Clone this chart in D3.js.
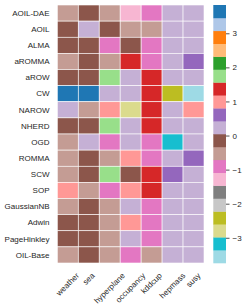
<!DOCTYPE html>
<html>
<head>
<meta charset="utf-8">
<script src="https://cdn.jsdelivr.net/npm/d3@7"></script>
<style>
  body { margin: 0; background: #fff; }
  svg { display: block; }
  text { font-family: "Liberation Sans", Arial, sans-serif; fill: #262626; }
</style>
</head>
<body>
<svg width="245" height="307"></svg>
<script>
// rows / columns of the heatmap
var models = ["AOIL-DAE", "AOIL", "ALMA", "aROMMA", "aROW", "CW", "NAROW", "NHERD",
  "OGD", "ROMMA", "SCW", "SOP", "GaussianNB", "Adwin", "PageHinkley", "OIL-Base"];
var datasets = ["weather", "sea", "hyperplane", "occupancy", "kddcup", "hepmass", "susy"];

// one row of scores per model (same order as datasets)
var scores = [
  [-0.5, -0.15, -0.5, -1.3, -0.9, 0.25, 0.25],
  [-0.15, 0.25, -0.15, -0.5, -0.5, 0.25, 0.25],
  [-0.15, -0.15, -0.9, -0.15, -0.9, 0.25, 0.25],
  [-0.5, -0.15, -0.5, 1.35, -0.9, 0.25, 0.6],
  [-0.15, -0.15, 1.75, 0.25, 1.35, 0.25, 0.25],
  [3.6, 3.6, 0.25, 0.25, 1.35, -2.4, -3.55],
  [0.25, -0.5, 1.0, -2.8, 1.35, 0.25, 1.0],
  [-0.15, -0.15, 1.75, 0.25, 1.35, 0.25, 0.25],
  [-0.5, 0.25, -0.9, 0.25, -0.9, -3.15, 0.25],
  [-0.5, -0.15, -0.5, 1.0, -0.9, 0.25, 0.6],
  [-0.5, -0.15, 1.75, -0.15, 1.35, 0.6, 0.25],
  [1.0, -0.5, -0.9, 1.0, 1.35, 0.25, 0.25],
  [-0.5, -0.15, -0.5, 0.25, -0.9, 0.25, 0.25],
  [-0.15, -0.15, -0.5, 1.0, -0.9, 0.25, 0.25],
  [-0.15, -0.15, -0.5, 0.25, -0.9, 0.25, 0.25],
  [-0.5, -0.15, -0.5, -0.9, -0.5, 0.25, 0.25]
];

var vmin = -3.74, vmax = 3.83;
var cbTicks = [-3, -2, -1, 0, 1, 2, 3];

// tab20, reversed so low values get the last colour
var tab20 = ["#1f77b4", "#aec7e8", "#ff7f0e", "#ffbb78", "#2ca02c", "#98df8a",
  "#d62728", "#ff9896", "#9467bd", "#c5b0d5", "#8c564b", "#c49c94",
  "#e377c2", "#f7b6d2", "#7f7f7f", "#c7c7c7", "#bcbd22", "#dbdb8d",
  "#17becf", "#9edae5"];
var cmap = tab20.slice().reverse();

var svg = d3.select("svg");
var gLeft = 57.3, gTop = 5, gRight = 204, gBottom = 263;

var x = d3.scaleBand().domain(datasets).range([gLeft, gRight]);
var y = d3.scaleBand().domain(models).range([gTop, gBottom]);
var color = d3.scaleQuantize().domain([vmin, vmax]).range(cmap);

var cells = [];
scores.forEach(function(row, i) {
  row.forEach(function(v, j) {
    cells.push({model: models[i], dataset: datasets[j], value: v});
  });
});

svg.append("g")
  .selectAll("rect")
  .data(cells)
  .enter()
  .append("rect")
  .attr("x", function(d) { return x(d.dataset); })
  .attr("y", function(d) { return y(d.model); })
  .attr("width", x.bandwidth())
  .attr("height", y.bandwidth())
  .attr("fill", function(d) { return color(d.value); })
  .attr("stroke", "#fff")
  .attr("stroke-width", 0.6);

// row labels
svg.append("g")
  .selectAll("text")
  .data(models)
  .enter()
  .append("text")
  .attr("x", 49.5)
  .attr("y", function(d) { return y(d) + y.bandwidth() / 2; })
  .attr("dy", "0.35em")
  .attr("text-anchor", "end")
  .style("font-size", "8px")
  .text(function(d) { return d; });

// column labels, rotated 45deg, bbox centred on the column
var xl = svg.append("g")
  .selectAll("text")
  .data(datasets)
  .enter()
  .append("text")
  .attr("text-anchor", "middle")
  .attr("dominant-baseline", "central")
  .style("font-size", "8px")
  .text(function(d) { return d; });

xl.each(function(d) {
  var w = this.getComputedTextLength();
  var h = (w + 8) / Math.SQRT2;
  var cx = x(d) + x.bandwidth() / 2;
  var cy = gBottom + 8.5 + h / 2;
  d3.select(this).attr("transform", "translate(" + cx + "," + cy + ") rotate(-45)");
});

// colour bar
var cbX = 213.3, cbW = 12.7;
var cbScale = d3.scaleLinear().domain([vmin, vmax]).range([gBottom, gTop]);
var step = (vmax - vmin) / cmap.length;

svg.append("g")
  .selectAll("rect")
  .data(cmap)
  .enter()
  .append("rect")
  .attr("x", cbX)
  .attr("y", function(c, i) { return cbScale(vmin + (i + 1) * step); })
  .attr("width", cbW)
  .attr("height", function(c, i) { return cbScale(vmin + i * step) - cbScale(vmin + (i + 1) * step) + 0.3; })
  .attr("fill", function(c) { return c; });

var cbAxis = d3.axisRight(cbScale)
  .tickValues(cbTicks)
  .tickSize(3.5)
  .tickPadding(3)
  .tickFormat(function(d) { return d < 0 ? "\u2212" + Math.abs(d) : d; });

var ax = svg.append("g")
  .attr("transform", "translate(" + (cbX + cbW) + ",0)")
  .call(cbAxis);
ax.select(".domain").remove();
ax.selectAll("line").attr("stroke", "#262626").attr("stroke-width", 0.8);
ax.selectAll("text")
  .style("font-size", "8px")
  .style("font-family", "'Liberation Sans', Arial, sans-serif")
  .attr("fill", "#262626");
</script>
</body>
</html>
